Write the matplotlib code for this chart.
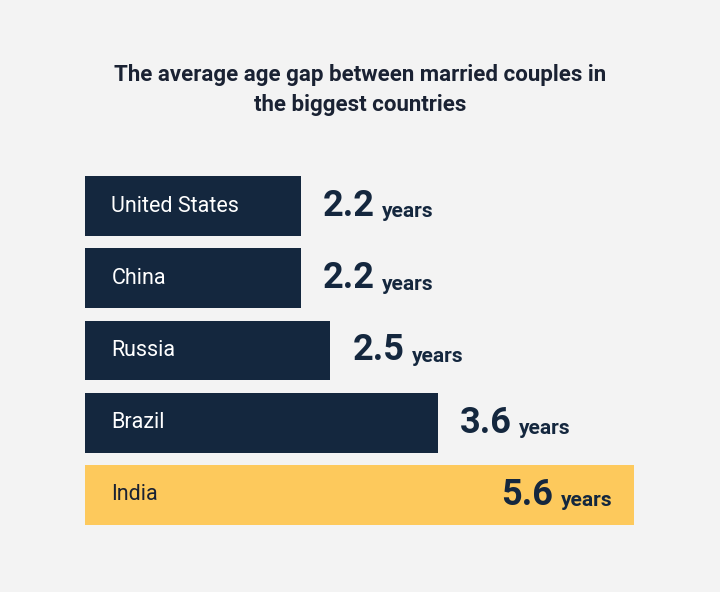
import matplotlib
matplotlib.use("Agg")
import matplotlib.pyplot as plt

countries = ["United States", "China", "Russia", "Brazil", "India"]
gaps = [2.2, 2.2, 2.5, 3.6, 5.6]
colors = ["#14273e", "#14273e", "#14273e", "#14273e", "#fdc95c"]

W, H = 720, 592
fig = plt.figure(figsize=(W / 100, H / 100), dpi=100, facecolor="#f3f3f3")
plt.rcParams["font.family"] = ["Roboto", "DejaVu Sans"]

# axes placed in pixel space: x from 85px, 98px per year
px_per_unit = 98.0
left, right = 85, 710
top, bottom = 170, 531
ax = fig.add_axes([left / W, 1 - bottom / H, (right - left) / W, (bottom - top) / H])
ax.set_xlim(0, (right - left) / px_per_unit)
ax.set_ylim(4.5, -0.5)
ax.axis("off")

ax.barh(range(len(countries)), gaps, height=0.83, color=colors)

fig.text(0.5, 1 - 75 / H, "The average age gap between married couples in",
         ha="center", va="center", fontsize=16, fontweight="bold", color="#1a2233")
fig.text(0.5, 1 - 105 / H, "the biggest countries",
         ha="center", va="center", fontsize=16, fontweight="bold", color="#1a2233")

fig.canvas.draw()
renderer = fig.canvas.get_renderer()
for i, (c, g) in enumerate(zip(countries, gaps)):
    inside = i == len(countries) - 1
    ax.text(0.27, i, c, ha="left", va="center", fontsize=15.5,
            color="#1a2233" if inside else "white")
    if inside:
        yrs = ax.text(g - 0.22, i + 0.08, "years", ha="right", va="center",
                      fontsize=15, fontweight="bold", color="#14273e")
        bb = yrs.get_window_extent(renderer)
        x0 = ax.transData.inverted().transform((bb.x0 - 7, 0))[0]
        ax.text(x0, i, f"{g}", ha="right", va="center", fontsize=26,
                fontweight="bold", color="#14273e")
    else:
        num = ax.text(g + 0.23, i, f"{g}", ha="left", va="center", fontsize=26,
                      fontweight="bold", color="#14273e")
        bb = num.get_window_extent(renderer)
        x1 = ax.transData.inverted().transform((bb.x1 + 7, 0))[0]
        ax.text(x1, i + 0.08, "years", ha="left", va="center", fontsize=15,
                fontweight="bold", color="#14273e")

fig.savefig("out.png", dpi=100, facecolor=fig.get_facecolor())
